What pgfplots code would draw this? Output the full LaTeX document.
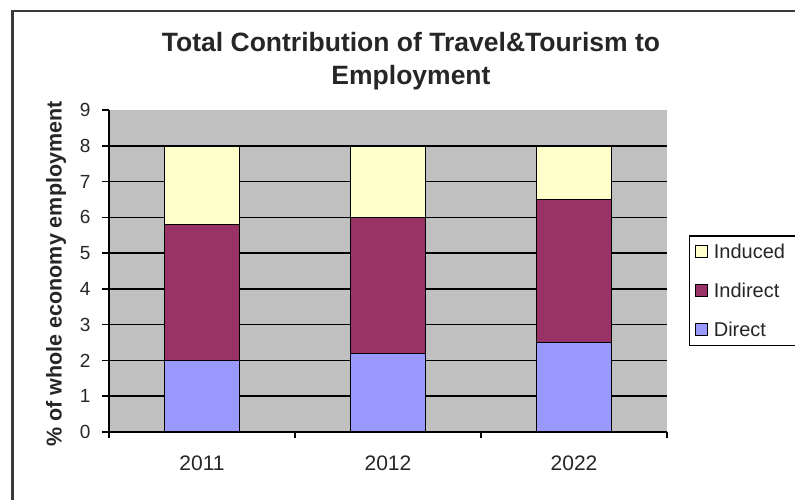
\documentclass[border=0pt]{standalone}
\usepackage{pgfplots}
\pgfplotsset{compat=1.18}
\usepackage{pgfplotstable}
\usepackage{fontspec}
\setmainfont{Liberation Sans}
\definecolor{cDirect}{HTML}{9999FF}
\definecolor{cIndirect}{HTML}{993366}
\definecolor{cInduced}{HTML}{FFFFCC}
\definecolor{cBg}{HTML}{C0C0C0}
\definecolor{cFrame}{HTML}{3A3A3A}

\pgfplotstableread{
x direct indirect induced
0 2.0 3.8 2.2
1 2.2 3.8 2.0
2 2.5 4.0 1.5
}\datatable

\begin{document}
\begin{tikzpicture}
\useasboundingbox (0bp,0bp) rectangle (795bp,-500bp);
\draw[line width=2.2bp, cFrame] (12.5bp,-505bp) -- (12.5bp,-11bp) -- (805bp,-11bp);
\node[font=\fontsize{26.5bp}{33bp}\selectfont\bfseries, align=center, anchor=base, text=black!85] at (411bp,-84bp) {Total Contribution of Travel\&Tourism to\\Employment};
\begin{axis}[
  at={(109bp,-432bp)}, anchor=south west,
  width=558bp, height=322bp, scale only axis,
  xmin=-0.5, xmax=2.5, ymin=0, ymax=9,
  ybar stacked, bar width=75bp,
  axis background/.style={fill=cBg},
  axis x line=bottom, axis y line=left,
  axis line style={-, black, line width=1.5bp},
  xtick={0,1,2}, xticklabels={2011,2012,2022},
  major x tick style={draw=none},
  minor xtick={-0.5,0.5,1.5,2.5},
  ytick={0,...,9},
  tick align=outside,
  major tick length=7bp, minor tick length=6bp,
  tick style={black, line width=1.5bp},
  extra y ticks={1,...,8}, extra y tick labels={},
  extra y tick style={grid=major, major tick length=0bp},
  major grid style={black, line width=1.5bp},
  /pgf/number format/assume math mode=true,
  yticklabel style={font=\fontsize{19bp}{19bp}\selectfont, text=black!85, xshift=-8bp},
  xticklabel style={font=\fontsize{21bp}{21bp}\selectfont, text=black!85, yshift=-13bp},
  ylabel={\% of whole economy employment},
  ylabel style={at={(rel axis cs:0,0.4907)}, anchor=center, yshift=53bp, text=black!85, font=\fontsize{21.5bp}{21.5bp}\selectfont\bfseries},
  legend style={at={(rel axis cs:1.0394,0.6118)}, anchor=north west, draw=black, line width=1.5bp, fill=white, font=\fontsize{20bp}{22bp}\selectfont, text=black!85, row sep=19bp, column sep=4bp, inner xsep=5bp, inner ysep=6bp},
  legend cell align=left,
  reverse legend,
  legend image code/.code={\draw[#1, draw=black, line width=1.1bp] (0bp,-6bp) rectangle (12bp,6bp);},
  legend entries={Direct, Indirect, {Induced\hspace*{10bp}}},
]
\addplot[fill=cDirect, draw=black, line width=1.5bp] table[x=x, y=direct] {\datatable};
\addplot[fill=cIndirect, draw=black, line width=1.5bp] table[x=x, y=indirect] {\datatable};
\addplot[fill=cInduced, draw=black, line width=1.5bp] table[x=x, y=induced] {\datatable};
\end{axis}
\end{tikzpicture}
\end{document}
